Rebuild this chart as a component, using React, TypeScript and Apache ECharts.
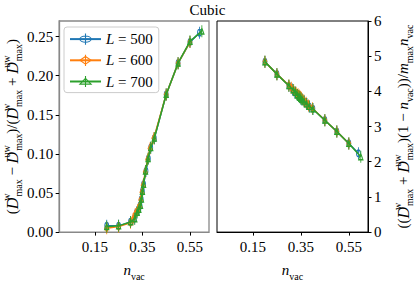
import React, { useEffect, useRef } from "react";
import * as echarts from "echarts";

const TITLE = "Cubic";
const xTicks = [0.15, 0.35, 0.55];
const leftYTicks = [0, 0.05, 0.1, 0.15, 0.2, 0.25];

const nvac500 = [0.2, 0.25, 0.3, 0.315, 0.325, 0.335, 0.34, 0.345, 0.35, 0.355, 0.365, 0.375, 0.385, 0.4, 0.45, 0.5, 0.55, 0.59];
const asym500 = [0.008, 0.008, 0.013, 0.017, 0.025, 0.029, 0.034, 0.042, 0.052, 0.061, 0.078, 0.094, 0.108, 0.12, 0.176, 0.216, 0.243, 0.255];
const ratio500 = [4.84, 4.49, 4.16, 4.05, 3.97, 3.9, 3.87, 3.84, 3.8, 3.77, 3.71, 3.64, 3.57, 3.5, 3.18, 2.86, 2.52, 2.24];

const nvac600 = [0.2, 0.25, 0.3, 0.31, 0.32, 0.33, 0.338, 0.343, 0.348, 0.353, 0.362, 0.372, 0.382, 0.398, 0.45, 0.5, 0.55];
const asym600 = [0.005, 0.007, 0.012, 0.016, 0.023, 0.028, 0.033, 0.041, 0.051, 0.06, 0.077, 0.093, 0.107, 0.12, 0.176, 0.216, 0.243];
const ratio600 = [4.84, 4.49, 4.17, 4.1, 4.03, 3.96, 3.92, 3.88, 3.85, 3.82, 3.75, 3.68, 3.6, 3.52, 3.18, 2.86, 2.52];

const nvac700 = [0.2, 0.25, 0.3, 0.318, 0.328, 0.335, 0.342, 0.346, 0.35, 0.355, 0.363, 0.374, 0.385, 0.4, 0.45, 0.5, 0.55, 0.6];
const asym700 = [0.007, 0.008, 0.013, 0.017, 0.025, 0.029, 0.034, 0.042, 0.052, 0.061, 0.078, 0.094, 0.108, 0.12, 0.176, 0.216, 0.244, 0.257];
const ratio700 = [4.84, 4.49, 4.16, 4.04, 3.97, 3.9, 3.86, 3.83, 3.8, 3.77, 3.72, 3.64, 3.57, 3.5, 3.18, 2.86, 2.52, 2.14];

const seriesNames = ["500", "600", "700"];
const colors = ["#1f77b4", "#ff7f0e", "#2ca02c"];

const FONT = "Liberation Serif";

const symCircle = "path://M0,-8L0,8M4.5,0A4.5,4.5,0,1,1,-4.5,0A4.5,4.5,0,1,1,4.5,0Z";
const symDiamond = "path://M0,-8L0,8M0,-5.5L4.5,0L0,5.5L-4.5,0Z";
const symTriangle = "path://M0,-8L0,8M0,-4.5L5,3.8L-5,3.8Z";
const symbols = [symCircle, symDiamond, symTriangle];

const zip = (xs: number[], ys: number[]) => xs.map((x, i) => [x, ys[i]]);

const richMath = {
  c: { fontFamily: FONT, fontSize: 16, fontStyle: "italic", color: "#000" },
  i: { fontFamily: FONT, fontSize: 15, fontStyle: "italic", color: "#000" },
  t: { fontFamily: FONT, fontSize: 15, color: "#000" },
  sup: { fontFamily: FONT, fontSize: 10, color: "#000", verticalAlign: "top", lineHeight: 10, width: 1 },
  sub: { fontFamily: FONT, fontSize: 10, color: "#000", verticalAlign: "bottom", lineHeight: 10 },
  s: { fontFamily: FONT, fontSize: 10, color: "#000", verticalAlign: "bottom", lineHeight: 10 },
};

const D = (sup: string) => `{c|D}{sup|${sup}}{sub|max}`;
const leftName = `{t|(}${D("w")}{t| − }${D("uw")}{t|)/(}${D("w")}{t| + }${D("uw")}{t|)}`;
const rightName = `{t|((}${D("w")}{t| + }${D("uw")}{t|)(1 − }{i|n}{s|vac}{t|))/}{i|m}{s|max}{i|n}{s|vac}`;
const xName = `{i|n}{s|vac}`;

export default function App() {
  const ref = useRef<HTMLDivElement>(null);
  useEffect(() => {
    if (!ref.current) return;
    const chart = echarts.init(ref.current, undefined, { renderer: "svg" });
    const labelStyle = { fontFamily: FONT, fontSize: 15, color: "#000" };
    const mkX = (gridIndex: number, lineColor: string) => ({
      type: "value",
      gridIndex,
      min: 0,
      max: 0.63,
      name: xName,
      nameLocation: "middle",
      nameGap: 20,
      nameTextStyle: { rich: richMath, lineHeight: 22 },
      axisLine: { onZero: false, lineStyle: { color: lineColor, width: 1 } },
      axisTick: { customValues: xTicks, length: 3.5, lineStyle: { color: "#000" } },
      axisLabel: { customValues: xTicks, margin: 7, formatter: (v: number) => v.toFixed(2), ...labelStyle },
      splitLine: { show: false },
    });
    const series: any[] = [];
    const xs = [nvac500, nvac600, nvac700];
    const asy = [asym500, asym600, asym700];
    const rat = [ratio500, ratio600, ratio700];
    for (let k = 0; k < 3; k++) {
      const common = {
        type: "line",
        name: seriesNames[k],
        symbol: symbols[k],
        symbolSize: [7, 12],
        symbolKeepAspect: true,
        lineStyle: { color: colors[k], width: 1.5 },
        itemStyle: { color: "none", borderColor: colors[k], borderWidth: 1.1 },
        emphasis: { disabled: true },
        z: 2 + k,
      };
      series.push({ ...common, xAxisIndex: 0, yAxisIndex: 0, data: zip(xs[k], asy[k]) });
      series.push({ ...common, xAxisIndex: 1, yAxisIndex: 1, data: zip(xs[k], rat[k]) });
    }
    chart.setOption({
      animation: false,
      title: {
        text: TITLE,
        left: "center",
        top: -3,
        textStyle: { fontFamily: FONT, fontSize: 15, fontWeight: "normal", color: "#000" },
      },
      legend: {
        data: seriesNames,
        orient: "vertical",
        left: 64,
        top: 27,
        padding: [4, 6, 3, 5],
        itemGap: 5,
        itemWidth: 31,
        itemHeight: 14,
        backgroundColor: "#fff",
        borderColor: "#ccc",
        borderWidth: 1,
        borderRadius: 3,
        itemStyle: { color: "none", borderWidth: 1.1 },
        formatter: (n: string) => `{i|L}{t| = ${n}}`,
        textStyle: {
          fontFamily: FONT,
          fontSize: 15,
          width: 56,
          align: "right",
          rich: {
            i: { fontFamily: FONT, fontSize: 15, fontStyle: "italic", color: "#000" },
            t: { fontFamily: FONT, fontSize: 15, color: "#000" },
          },
        },
      },
      grid: [
        { left: 57, right: 206, top: 21, bottom: 44, show: true, borderColor: "#888", borderWidth: 1.3, backgroundColor: "transparent" },
        { left: 217, right: 44, top: 21, bottom: 44, show: true, borderColor: "#000", borderWidth: 1, backgroundColor: "transparent" },
      ],
      xAxis: [mkX(0, "#888"), mkX(1, "#000")],
      yAxis: [
        {
          type: "value",
          gridIndex: 0,
          min: 0,
          max: 0.27,
          name: leftName,
          nameLocation: "middle",
          nameRotate: 90,
          nameGap: 36,
          nameTextStyle: { rich: richMath, lineHeight: 22 },
          axisLine: { show: true, onZero: false, lineStyle: { color: "#888", width: 1.3 } },
          axisTick: { show: true, customValues: leftYTicks, length: 3.5, lineStyle: { color: "#000" } },
          axisLabel: { customValues: leftYTicks, margin: 6, formatter: (v: number) => v.toFixed(2), ...labelStyle },
          splitLine: { show: false },
        },
        {
          type: "value",
          gridIndex: 1,
          position: "right",
          min: 0,
          max: 6,
          interval: 1,
          name: rightName,
          nameLocation: "middle",
          nameRotate: 90,
          nameGap: 24,
          nameTextStyle: { rich: richMath, lineHeight: 22 },
          axisLine: { show: true, onZero: false, lineStyle: { color: "#000", width: 1 } },
          axisTick: { show: true, length: 3.5, lineStyle: { color: "#000" } },
          axisLabel: { margin: 6, ...labelStyle },
          splitLine: { show: false },
        },
      ],
      series,
    });
    return () => chart.dispose();
  }, []);
  return <div ref={ref} style={{ width: 415, height: 286, position: "absolute", left: 0, top: 0 }} />;
}
